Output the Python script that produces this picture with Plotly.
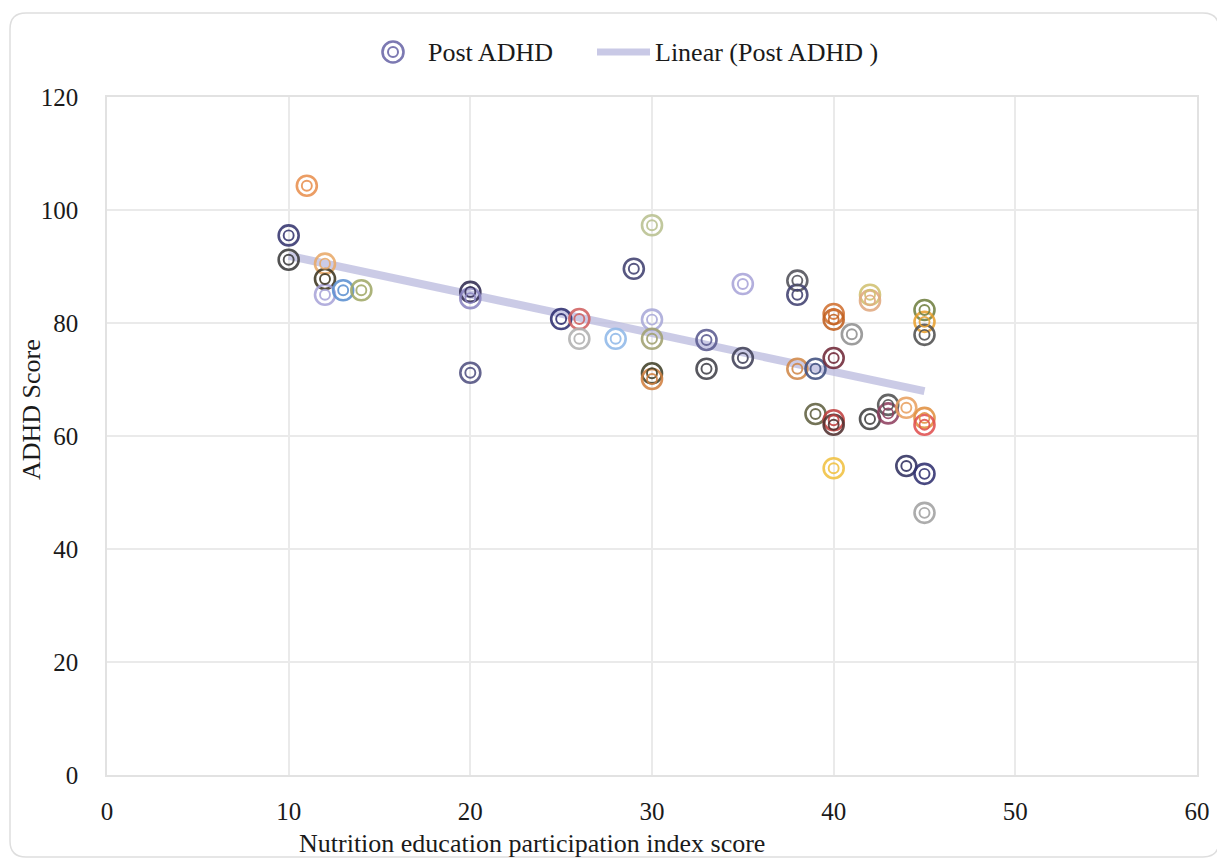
import numpy as np
import plotly.graph_objects as go

# Data
nutrition_index = [11, 10, 10, 12, 12, 12, 13, 14, 20, 20, 20, 25, 26, 26, 28, 29, 30, 30, 30, 30, 30,
                   33, 33, 35, 35, 38, 38, 38, 39, 39, 40, 40, 40, 40, 40, 40, 41, 42, 42, 42, 43, 43,
                   44, 44, 45, 45, 45, 45, 45, 45, 45]
post_adhd = [104.3, 95.5, 91.2, 90.5, 87.8, 85.0, 85.8, 85.8, 85.5, 84.4, 71.2, 80.7, 80.7, 77.2, 77.2,
             89.6, 97.3, 80.6, 77.2, 71.1, 70.1, 77.0, 71.9, 86.9, 73.8, 87.5, 85.0, 71.9, 71.9, 63.9,
             81.6, 80.6, 73.8, 62.8, 62.0, 54.3, 78.0, 85.0, 84.0, 63.0, 65.5, 64.0, 65.0, 54.7, 82.3,
             80.2, 77.9, 63.2, 62.0, 53.3, 46.4]
point_colors = ["#e8904f", "#34346e", "#3a3a3a", "#e8a868", "#3c3520", "#a9a4d8", "#5b8fd0", "#a0a868",
                "#302a50", "#8a84c0", "#505080", "#2d2d70", "#d06060", "#b0b0b0", "#8fb8e8", "#404070",
                "#b8c090", "#a8a8d8", "#a0a070", "#404028", "#d08040", "#5a5a90", "#404048", "#a8a4d8",
                "#404058", "#505058", "#404070", "#d08848", "#405080", "#606040", "#d07030", "#c06020",
                "#702838", "#c04040", "#503030", "#f0c040", "#909090", "#d0c070", "#e0a880", "#404040",
                "#505050", "#904060", "#e8a060", "#303060", "#708040", "#e8a030", "#505050", "#e09040",
                "#e05050", "#303070", "#a0a0a0"]

x_ticks = [0, 10, 20, 30, 40, 50, 60]
y_ticks = [0, 20, 40, 60, 80, 100, 120]
series_name = "Post ADHD"
trend_name = "Linear (Post ADHD )"
x_title = "Nutrition education participation index score"
y_title = "ADHD Score"

FONT = "Liberation Serif"
TXT = "#1a1a1a"

# plot area on screen (px): left 107, right 1197, top 97, bottom 775
PL, PR, PT, PB = 107.0, 1197.0, 97.0, 775.0
def px_x(px):
    return (px - PL) / (PR - PL)
def px_y(py):
    return (PB - py) / (PB - PT)

fig = go.Figure()

# Linear trendline fitted to the data
slope, intercept = np.polyfit(nutrition_index, post_adhd, 1)
xs = np.array([min(nutrition_index), max(nutrition_index)])
fig.add_trace(go.Scatter(
    x=xs, y=slope * xs + intercept, mode="lines",
    line=dict(color="rgba(185,185,222,0.75)", width=8),
    name=trend_name, showlegend=False, hoverinfo="skip"))

# Outer rings
fig.add_trace(go.Scatter(
    x=nutrition_index, y=post_adhd, mode="markers",
    marker=dict(symbol="circle-open", size=20, color=point_colors, line=dict(width=2.6), opacity=0.88),
    name=series_name, showlegend=False))
# Inner rings
fig.add_trace(go.Scatter(
    x=nutrition_index, y=post_adhd, mode="markers",
    marker=dict(symbol="circle-open", size=10, color=point_colors, line=dict(width=1.9), opacity=0.88),
    showlegend=False, hoverinfo="skip"))

shapes = []
# Rounded border around the chart
x0, x1 = px_x(10), px_x(1219)
y0, y1 = px_y(857), px_y(13)
rx, ry = 16 / (PR - PL), 16 / (PB - PT)
path = (f"M {x0+rx},{y0} L {x1-rx},{y0} Q {x1},{y0} {x1},{y0+ry} "
        f"L {x1},{y1-ry} Q {x1},{y1} {x1-rx},{y1} "
        f"L {x0+rx},{y1} Q {x0},{y1} {x0},{y1-ry} "
        f"L {x0},{y0+ry} Q {x0},{y0} {x0+rx},{y0} Z")
shapes.append(dict(type="path", path=path, xref="paper", yref="paper",
                   line=dict(color="#dedede", width=1.5), layer="below"))

# Custom legend (drawn in paper coordinates)
LY = 52
cx = 393
for r, w in [(10.5, 2.6), (5, 2.0)]:
    shapes.append(dict(type="circle", xref="paper", yref="paper",
                       x0=px_x(cx - r), x1=px_x(cx + r), y0=px_y(LY + r), y1=px_y(LY - r),
                       line=dict(color="#7c79b2", width=w)))
shapes.append(dict(type="line", xref="paper", yref="paper",
                   x0=px_x(597), x1=px_x(650), y0=px_y(LY), y1=px_y(LY),
                   line=dict(color="rgba(192,192,226,0.85)", width=7)))

annotations = [
    dict(text=series_name, x=px_x(426), y=px_y(LY), xref="paper", yref="paper",
         xanchor="left", yanchor="middle", showarrow=False, font=dict(family=FONT, size=26, color=TXT)),
    dict(text=trend_name, x=px_x(653), y=px_y(LY), xref="paper", yref="paper",
         xanchor="left", yanchor="middle", showarrow=False, font=dict(family=FONT, size=26, color=TXT)),
    dict(text=x_title, x=px_x(532), y=px_y(843), xref="paper", yref="paper",
         xanchor="center", yanchor="middle", showarrow=False, font=dict(family=FONT, size=26, color=TXT)),
    dict(text=y_title, x=px_x(31), y=px_y(410), xref="paper", yref="paper", textangle=-90,
         xanchor="center", yanchor="middle", showarrow=False, font=dict(family=FONT, size=26, color=TXT)),
]

# the page body adds an 8px offset, compensate in margins
OFF = 8
fig.update_layout(
    width=1225, height=861,
    margin=dict(l=PL - OFF, r=1225 - PR + OFF, t=PT - OFF, b=861 - PB + OFF, autoexpand=False),
    paper_bgcolor="white", plot_bgcolor="white",
    font=dict(family=FONT, size=25, color=TXT),
    showlegend=False,
    shapes=shapes, annotations=annotations,
    xaxis=dict(range=[0, 60], tickvals=x_ticks, showgrid=True, gridcolor="#eaeaea", gridwidth=1.6,
               zeroline=False, showline=True, linecolor="#e2e2e2", linewidth=1.6, mirror=True,
               ticks="", ticklabelstandoff=13, tickfont=dict(family=FONT, size=25, color=TXT)),
    yaxis=dict(range=[0, 120], tickvals=y_ticks, showgrid=True, gridcolor="#eaeaea", gridwidth=1.6,
               zeroline=False, showline=True, linecolor="#e2e2e2", linewidth=1.6, mirror=True,
               ticks="", ticklabelstandoff=22, tickfont=dict(family=FONT, size=25, color=TXT)),
)

fig.write_html("out.html")
